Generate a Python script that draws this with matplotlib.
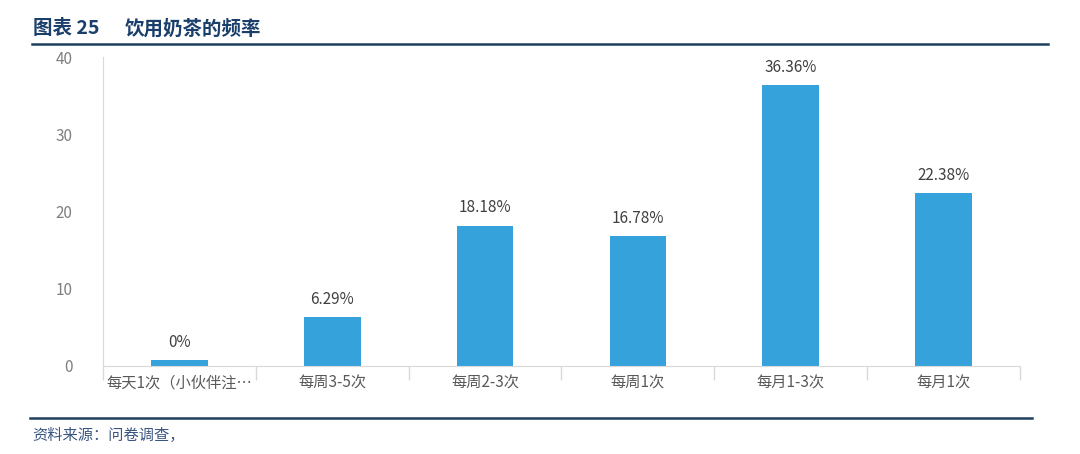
# 饮用奶茶的频率 棒グラフ

import matplotlib.pyplot as plt
import numpy as np

plt.rcParams['font.family'] = ['Noto Sans CJK SC', 'DejaVu Sans']

# データ
categories = ['每天1次（小伙伴注…', '每周3-5次', '每周2-3次', '每周1次', '每月1-3次', '每月1次']
values = [0.8, 6.29, 18.18, 16.78, 36.36, 22.38]
value_labels = ['0%', '6.29%', '18.18%', '16.78%', '36.36%', '22.38%']
y_ticks = [0, 10, 20, 30, 40]

W, H = 1080, 454
fig = plt.figure(figsize=(W / 100, H / 100), dpi=100)

# タイトルと区切り線
fig.text(33 / W, 1 - 29 / H, '图表 25', fontsize=14, fontweight='bold',
         color='#1B3F6B', va='center', ha='left')
fig.text(125 / W, 1 - 29 / H, '饮用奶茶的频率', fontsize=14, fontweight='bold',
         color='#1B3F6B', va='center', ha='left')
fig.add_artist(plt.Line2D([32 / W, 1048 / W], [1 - 44 / H, 1 - 44 / H],
                          color='#1F3F60', linewidth=1.8))
fig.add_artist(plt.Line2D([30 / W, 1032 / W], [1 - 418 / H, 1 - 418 / H],
                          color='#1F3F60', linewidth=1.8))
fig.text(32 / W, 1 - 435 / H, '资料来源：问卷调查，', fontsize=11, style='italic',
         color='#3A5580', va='center', ha='left')

ax = fig.add_axes([103 / W, 1 - 366 / H, (1020 - 103) / W, (366 - 57) / H])
x = np.arange(len(categories))
bars = ax.bar(x, values, width=0.37, color='#35A2DB')

for b, lab in zip(bars, value_labels):
    ax.text(b.get_x() + b.get_width() / 2, b.get_height() + 1.2, lab,
            ha='center', va='bottom', fontsize=11, color='#404040')

ax.set_xlim(-0.5, len(categories) - 0.5)
ax.set_ylim(0, 40)
ax.set_yticks(y_ticks)
ax.tick_params(axis='y', length=0, labelsize=11, labelcolor='#7F7F7F', pad=22)

# x軸の目盛り（カテゴリ間）
ax.set_xticks(x)
ax.set_xticklabels(categories, fontsize=11, color='#595959')
ax.tick_params(axis='x', length=0, pad=6)
ax.set_xticks(np.arange(len(categories) + 1) - 0.5, minor=True)
ax.tick_params(axis='x', which='minor', length=10, color='#D9D9D9', width=1)

for s in ['top', 'right']:
    ax.spines[s].set_visible(False)
ax.spines['left'].set_color('#D9D9D9')
ax.spines['bottom'].set_color('#D9D9D9')

plt.savefig('out.png', dpi=100)
